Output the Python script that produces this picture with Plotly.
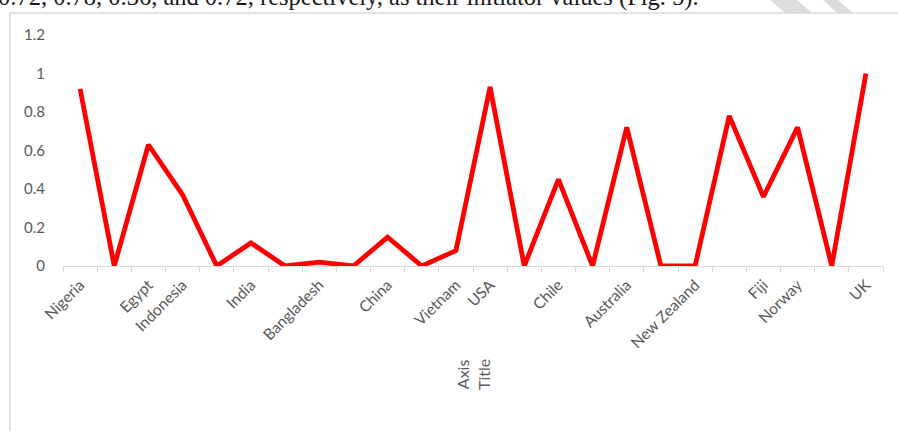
import plotly.graph_objects as go

# ---- data ----
categories = ["Nigeria", "", "Egypt", "Indonesia", "", "India", "", "Bangladesh", "", "China",
              "", "Vietnam", "USA", "", "Chile", "", "Australia", "", "New Zealand", "",
              "Fiji", "Norway", "", "UK"]
values = [0.92, 0.0, 0.63, 0.37, 0.0, 0.12, 0.0, 0.02, 0.0, 0.15,
          0.0, 0.08, 0.93, 0.0, 0.45, 0.0, 0.72, 0.0, 0.0, 0.78,
          0.36, 0.72, 0.0, 1.0]
y_ticks = [0, 0.2, 0.4, 0.6, 0.8, 1.0, 1.2]
y_tick_labels = ["0", "0.2", "0.4", "0.6", "0.8", "1", "1.2"]
axis_title = "Axis<br>Title"
caption = "0.72, 0.78, 0.36, and 0.72, respectively, as their initiator values (Fig. 5)."

idx = list(range(len(categories)))
boundaries = [i - 0.5 for i in range(len(categories) + 1)]

W, H = 898, 431
ML, MR, MT, MB = 63, 15, 35, 165
pw, ph = W - ML - MR, H - MT - MB

def px(x):
    return (x - ML) / pw

def py(y):
    return (H - MB - y) / ph

fig = go.Figure()
fig.add_trace(go.Scatter(x=idx, y=values, mode="lines",
                         line=dict(color="#FF0000", width=4.8), xaxis="x", yaxis="y",
                         showlegend=False, hoverinfo="skip"))
# invisible trace for label axis
fig.add_trace(go.Scatter(x=idx, y=values, mode="lines", line=dict(width=0),
                         xaxis="x2", yaxis="y", showlegend=False, hoverinfo="skip",
                         opacity=0))

font_tick = dict(family="Lato, Carlito, 'Open Sans', sans-serif", size=15.5, color="#595959")

fig.update_layout(
    width=W, height=H,
    margin=dict(l=ML, r=MR, t=MT, b=MB),
    paper_bgcolor="white", plot_bgcolor="white",
    xaxis=dict(range=[-0.5, len(categories) - 0.5], tickmode="array", tickvals=boundaries,
               ticktext=[""] * len(boundaries), showticklabels=False,
               ticks="outside", ticklen=5, tickcolor="#d9d9d9", tickwidth=1,
               showline=True, linecolor="#d9d9d9", linewidth=1, showgrid=False,
               zeroline=False),
    xaxis2=dict(range=[-0.5, len(categories) - 0.5], overlaying="x", side="bottom",
                tickmode="array", tickvals=idx, ticktext=categories, tickangle=-45,
                ticks="", showgrid=False, showline=False, zeroline=False,
                tickfont=font_tick, ticklabelstandoff=6, automargin=False),
    yaxis=dict(range=[0, 1.2], tickmode="array", tickvals=y_ticks, ticktext=y_tick_labels,
               showgrid=False, zeroline=False, showline=False, ticks="",
               tickfont=dict(font_tick, size=15), ticklabelstandoff=17, automargin=False),
)

fig.add_annotation(text=axis_title, xref="paper", yref="paper", x=0.5, y=py(375),
                   showarrow=False, textangle=-90, xanchor="center", yanchor="middle",
                   font=dict(font_tick, size=16), align="center")

fig.add_annotation(text=caption, xref="paper", yref="paper", x=px(-4), y=py(13),
                   xanchor="left", yanchor="bottom", showarrow=False,
                   font=dict(family="Liberation Serif, 'Times New Roman', serif", size=24.5,
                             color="#1a1a1a"))

# chart frame
fig.add_shape(type="line", xref="paper", yref="paper", x0=px(10), x1=px(W), y0=py(13), y1=py(13),
              line=dict(color="#d9d9d9", width=1.5))
fig.add_shape(type="line", xref="paper", yref="paper", x0=px(10), x1=px(10), y0=py(13), y1=py(H),
              line=dict(color="#d9d9d9", width=1.5))

# faint watermark stripes at top right
for (a, b, c, d) in [(770, 797, 812, 785), (823, 838, 853, 837)]:
    path = (f"M {px(a)} {py(0)} L {px(b)} {py(0)} L {px(c)} {py(13)} L {px(d)} {py(13)} Z")
    fig.add_shape(type="path", xref="paper", yref="paper", path=path,
                  fillcolor="#dcdcdc", line=dict(width=0), layer="below")

fig.write_html("out.html", config={"displayModeBar": False},
               post_script="document.body.style.margin='0';document.body.style.overflow='hidden';")
